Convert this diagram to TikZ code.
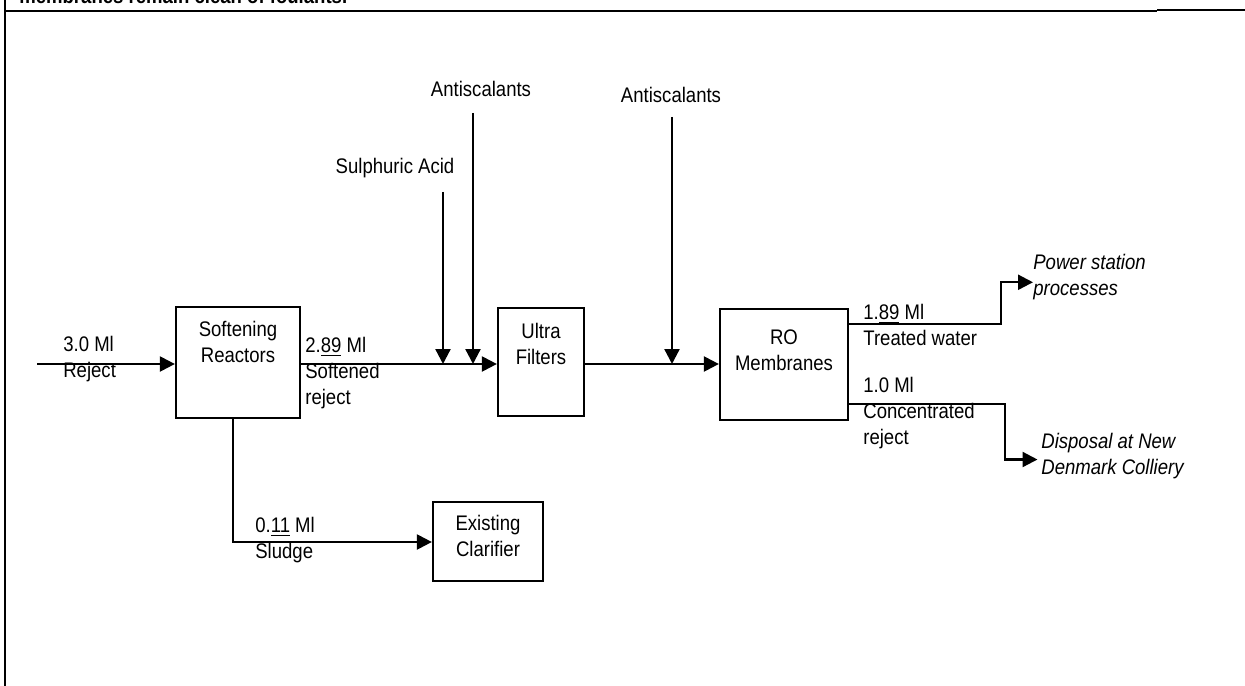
\documentclass[tikz,border=0pt]{standalone}
\usepackage{fontspec}
\setmainfont{Liberation Sans}[FakeStretch=0.88]
\usetikzlibrary{arrows.meta,positioning,calc}
\newcommand{\flowfont}{\fontsize{12}{14.6}\selectfont}
\tikzset{
  unitbox/.style={rectangle,draw=black,line width=1.3pt,inner sep=0pt},
  boxtxt/.style={align=center,inner sep=0pt,font=\flowfont},
  lbl/.style={align=left,inner sep=0pt,anchor=west,font=\flowfont},
  dest/.style={align=left,inner sep=0pt,anchor=west,font=\flowfont\itshape},
  chem/.style={inner sep=0pt,font=\flowfont},
  flow/.style={-{Triangle[length=8.5pt,width=8.5pt]},line width=1.3pt},
  frame/.style={line width=1.5pt},
}

\begin{document}
\begin{tikzpicture}[x=0.02cm,y=-0.02cm]
  \useasboundingbox (0,0) rectangle (1245,686);

  % frame of the table cell
  \draw[frame] (5,0) -- (5,686);
  \draw[line width=0.7pt] (5,11) -- (1157,11);
  \draw[line width=1.5pt] (1157,10) -- (1245,10);
  \node[font=\flowfont\bfseries,anchor=base west,inner sep=0pt] (note) at (19,4)
    {membranes remain clean of foulants.};

  % process units
  \node[unitbox,minimum width=2.48cm,minimum height=2.22cm] (soft) at (238,362.5) {};
  \node[boxtxt,below=0.3cm of soft.north] (softT) {Softening\\Reactors};

  \node[unitbox,minimum width=1.72cm,minimum height=2.16cm] (uf) at (541,362) {};
  \node[boxtxt,below=0.33cm of uf.north] (ufT) {Ultra\\Filters};

  \node[unitbox,minimum width=2.56cm,minimum height=2.22cm] (ro) at (784,364.5) {};
  \node[boxtxt,below=0.44cm of ro.north] (roT) {RO\\Membranes};

  \node[unitbox,minimum width=2.2cm,minimum height=1.58cm] (clar) at (488,541.5) {};
  \node[boxtxt,below=0.28cm of clar.north] (clarT) {Existing\\Clarifier};

  % dosing points
  \node[chem] (acid) at (395,168) {Sulphuric Acid};
  \node[chem] (anti1) at (481,89) {Antiscalants};
  \node[chem] (anti2) at (671,95) {Antiscalants};

  % destinations
  \node[dest] (power) at (1033,277) {Power station\\processes};
  \node[dest] (disp) at (1041,456) {Disposal at New\\Denmark Colliery};

  % flow labels
  \node[lbl] (feedL) at (63,359) {3.0 Ml\\Reject};
  \node[lbl] (softL) at (305,373) {2.\underline{89} Ml\\Softened\\reject};
  \node[lbl] (twL) at (863,325) {1.\underline{89} Ml\\Treated water};
  \node[lbl] (crL) at (863,413) {1.0 Ml\\Concentrated\\reject};
  \node[lbl] (slL) at (255,540) {0.\underline{11} Ml\\Sludge};

  % connector points
  \coordinate (main) at (0,364);
  \coordinate (feedin) at (37,364);
  \coordinate (acidin) at (443,364);
  \coordinate (anti1in) at (473,364);
  \coordinate (anti2in) at (672,364);
  \coordinate (tw) at (1001,324);
  \coordinate (cr) at (1005,404);
  \coordinate (sl) at (233,542);

  \draw[flow] (feedin) -- (feedin -| soft.west);
  \draw[flow] (soft.east |- main) -- (uf.west |- main);
  \draw[flow] (uf.east |- main) -- (ro.west |- main);

  \draw[flow] (acidin |- 0,192) -- (acidin);
  \draw[flow] (anti1in |- 0,113) -- (anti1in);
  \draw[flow] (anti2in |- 0,117) -- (anti2in);

  \draw[flow] (ro.east |- tw) -- (tw) |- ([yshift=-3pt]power.west);
  \draw[flow] (ro.east |- cr) -- (cr) |- ([yshift=-2pt,xshift=-2pt]disp.west);
  \draw[flow] (sl |- soft.south) -- (sl) -- (sl -| clar.west);

\end{tikzpicture}
\end{document}
